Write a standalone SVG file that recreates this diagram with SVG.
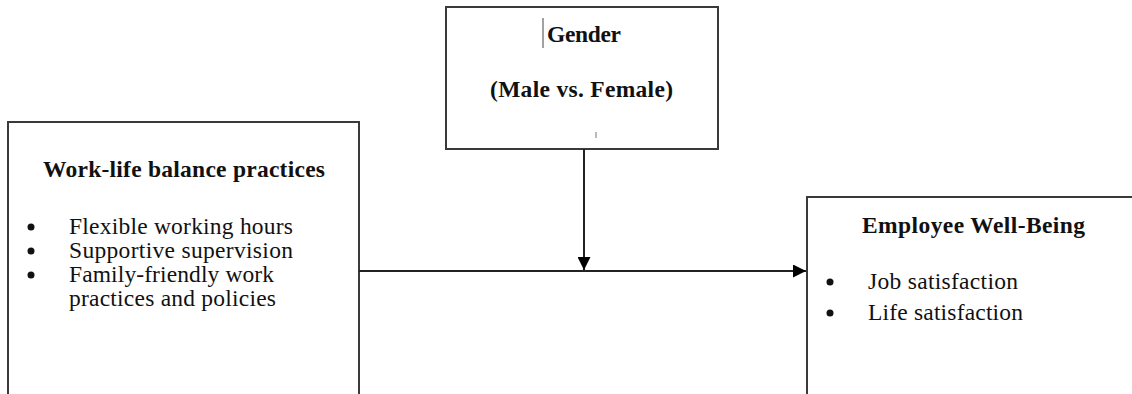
<svg xmlns="http://www.w3.org/2000/svg" width="1132" height="394" viewBox="0 0 1132 394">
<style>
.box{fill:#fff;stroke:#3a3a3a;stroke-width:2}
.t{font-family:"Liberation Serif","Times New Roman",serif;font-size:23.5px;fill:#111}
.b{font-weight:bold}
.conn{stroke:#222;stroke-width:2;fill:none}
</style>
<defs>
<marker id="ah" viewBox="0 0 13 13" refX="13" refY="6.5" markerWidth="13" markerHeight="13" markerUnits="userSpaceOnUse" orient="auto">
<path d="M0,0 L13,6.5 L0,13 Z" fill="#000"/>
</marker>
</defs>
<rect width="1132" height="394" fill="#fff"/>
<g id="gender">
<rect class="box" x="446" y="7" width="272" height="142"/>
<line x1="543" y1="18" x2="543" y2="48" stroke="#444" stroke-width="1"/>
<text class="t b" x="547" y="42" textLength="74" lengthAdjust="spacing">Gender</text>
<text class="t b" x="490" y="97" textLength="183" lengthAdjust="spacing">(Male vs. Female)</text>
<line x1="596" y1="132" x2="596" y2="138" stroke="#777" stroke-width="1"/>
</g>
<g id="wlb">
<path class="box" d="M8,394 V122 H359 V394"/>
<text class="t b" x="43" y="177" textLength="282" lengthAdjust="spacing">Work-life balance practices</text>
<circle cx="31" cy="227" r="3.5" fill="#111"/>
<circle cx="31" cy="251" r="3.5" fill="#111"/>
<circle cx="31" cy="275" r="3.5" fill="#111"/>
<text class="t" x="69" y="234" textLength="224" lengthAdjust="spacing">Flexible working hours</text>
<text class="t" x="69" y="258" textLength="224" lengthAdjust="spacing">Supportive supervision</text>
<text class="t" x="69" y="282" textLength="205" lengthAdjust="spacing">Family-friendly work</text>
<text class="t" x="69" y="306" textLength="207" lengthAdjust="spacing">practices and policies</text>
</g>
<g id="wellbeing">
<path class="box" d="M807,394 V197 H1132"/>
<text class="t b" x="862" y="233" textLength="223" lengthAdjust="spacing">Employee Well-Being</text>
<circle cx="830" cy="282" r="3.5" fill="#111"/>
<circle cx="830" cy="313" r="3.5" fill="#111"/>
<text class="t" x="868" y="289" textLength="150" lengthAdjust="spacing">Job satisfaction</text>
<text class="t" x="868" y="320" textLength="155" lengthAdjust="spacing">Life satisfaction</text>
</g>
<g id="connectors">
<line class="conn" x1="359" y1="271" x2="806" y2="271" marker-end="url(#ah)"/>
<line class="conn" x1="584" y1="149" x2="584" y2="270" marker-end="url(#ah)"/>
</g>
</svg>
